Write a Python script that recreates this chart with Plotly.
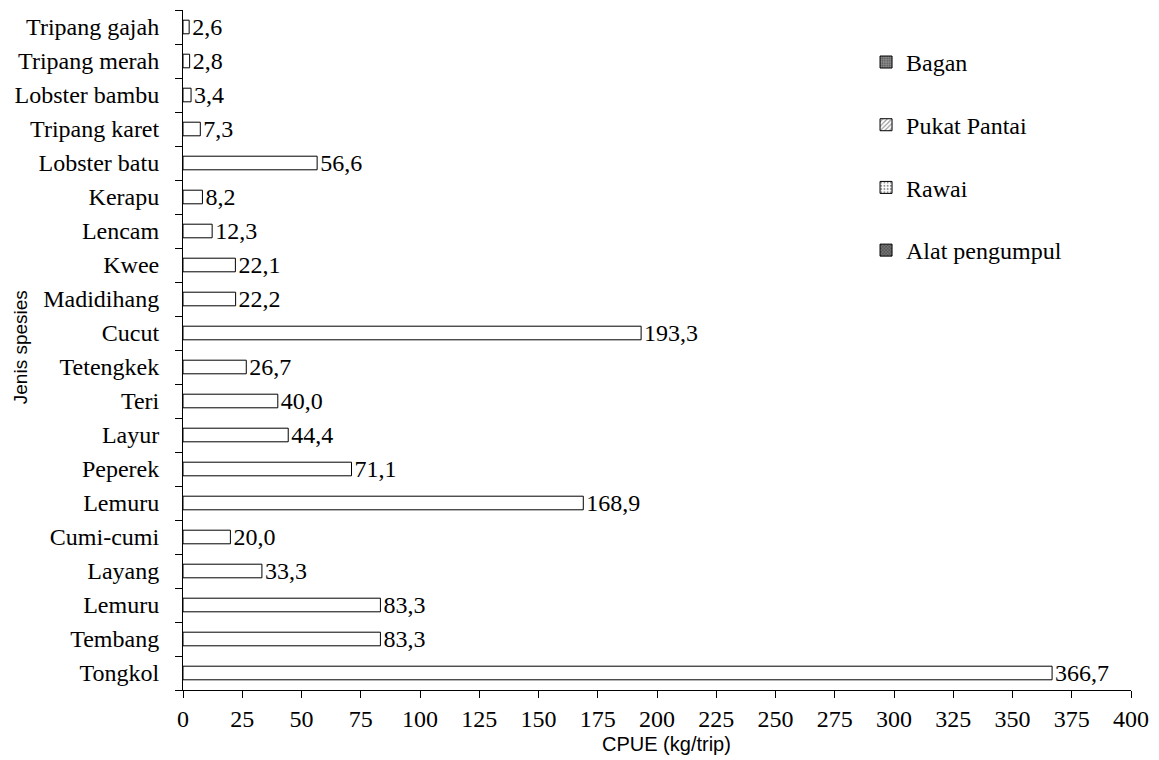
import plotly.graph_objects as go

# Categories bottom-to-top, grouped by gear
bagan_species = ["Tongkol", "Tembang", "Lemuru", "Layang", "Cumi-cumi"]
bagan_values = [366.7, 83.3, 83.3, 33.3, 20.0]

pukat_species = ["Lemuru", "Peperek", "Layur", "Teri", "Tetengkek"]
pukat_values = [168.9, 71.1, 44.4, 40.0, 26.7]

rawai_species = ["Cucut", "Madidihang", "Kwee", "Lencam", "Kerapu", "Lobster batu"]
rawai_values = [193.3, 22.2, 22.1, 12.3, 8.2, 56.6]

alat_species = ["Tripang karet", "Lobster bambu", "Tripang merah", "Tripang gajah"]
alat_values = [7.3, 3.4, 2.8, 2.6]

gear_names = ["Bagan", "Pukat Pantai", "Rawai", "Alat pengumpul"]
x_ticks = list(range(0, 401, 25))

groups = [
    (bagan_species, bagan_values),
    (pukat_species, pukat_values),
    (rawai_species, rawai_values),
    (alat_species, alat_values),
]

SERIF = "Liberation Serif, Times New Roman, serif"
SANS = "Liberation Sans, Arial, sans-serif"

fig = go.Figure()
all_species = []
pos = 0
for species, values in groups:
    ys = list(range(pos, pos + len(species)))
    pos += len(species)
    all_species += species
    fig.add_trace(go.Bar(
        x=values, y=ys, orientation="h", width=0.4,
        marker=dict(color="white", line=dict(color="black", width=1)),
        text=[f"{v:.1f}".replace(".", ",") for v in values],
        textposition="outside", cliponaxis=False, constraintext="none",
        textfont=dict(family=SERIF, size=24, color="black"),
        showlegend=False, hoverinfo="x+y",
    ))

legend_patterns = [
    dict(shape=".", fgcolor="#222222", bgcolor="#999999", size=3, solidity=0.5),
    dict(shape="/", fgcolor="#222222", bgcolor="white", size=4, solidity=0.35),
    dict(shape=".", fgcolor="#222222", bgcolor="white", size=4, solidity=0.3),
    dict(shape="x", fgcolor="#222222", bgcolor="#777777", size=3, solidity=0.5),
]
for name, pat in zip(gear_names, legend_patterns):
    fig.add_trace(go.Bar(
        x=[None], y=[None], orientation="h", name=name, legendgroup=name,
        marker=dict(color="white", line=dict(color="black", width=1), pattern=pat),
    ))

n = len(all_species)
fig.update_layout(
    width=1159, height=760,
    margin=dict(l=183, r=28, t=10, b=70, autoexpand=False),
    plot_bgcolor="white", paper_bgcolor="white",
    barmode="overlay",
    showlegend=True,
    legend=dict(x=0.7205, y=0.956, xanchor="left", yanchor="top",
                font=dict(family=SERIF, size=24, color="black"),
                tracegroupgap=28.5, itemwidth=30, bgcolor="rgba(0,0,0,0)"),
    xaxis=dict(range=[0, 400], tickvals=x_ticks, ticks="outside", ticklen=7,
               tickcolor="black", showline=True, linecolor="black", linewidth=1,
               showgrid=False, zeroline=False, automargin=False,
               tickfont=dict(family=SERIF, size=24, color="black")),
    yaxis=dict(range=[-0.5, n - 0.5], tickvals=list(range(n)), ticktext=all_species,
               ticks="", showline=True, linecolor="black", linewidth=1,
               showgrid=False, zeroline=False, ticklabelstandoff=18, automargin=False,
               minor=dict(tickvals=[i - 0.5 for i in range(n + 1)], ticks="outside",
                          ticklen=7, tickcolor="black", showgrid=False),
               tickfont=dict(family=SERIF, size=24, color="black")),
    annotations=[
        dict(text="CPUE (kg/trip)", xref="paper", yref="paper", x=0.5095, y=-0.0985,
             xanchor="center", yanchor="bottom", showarrow=False,
             font=dict(family=SANS, size=20, color="black")),
        dict(text="Jenis spesies", xref="paper", yref="paper", x=-0.172, y=0.504,
             xanchor="center", yanchor="middle", showarrow=False, textangle=-90,
             font=dict(family=SANS, size=19, color="black")),
    ],
)

fig.write_html("out.html", config={"displayModeBar": False},
               post_script="document.body.style.margin='0';document.body.style.overflow='hidden';")
